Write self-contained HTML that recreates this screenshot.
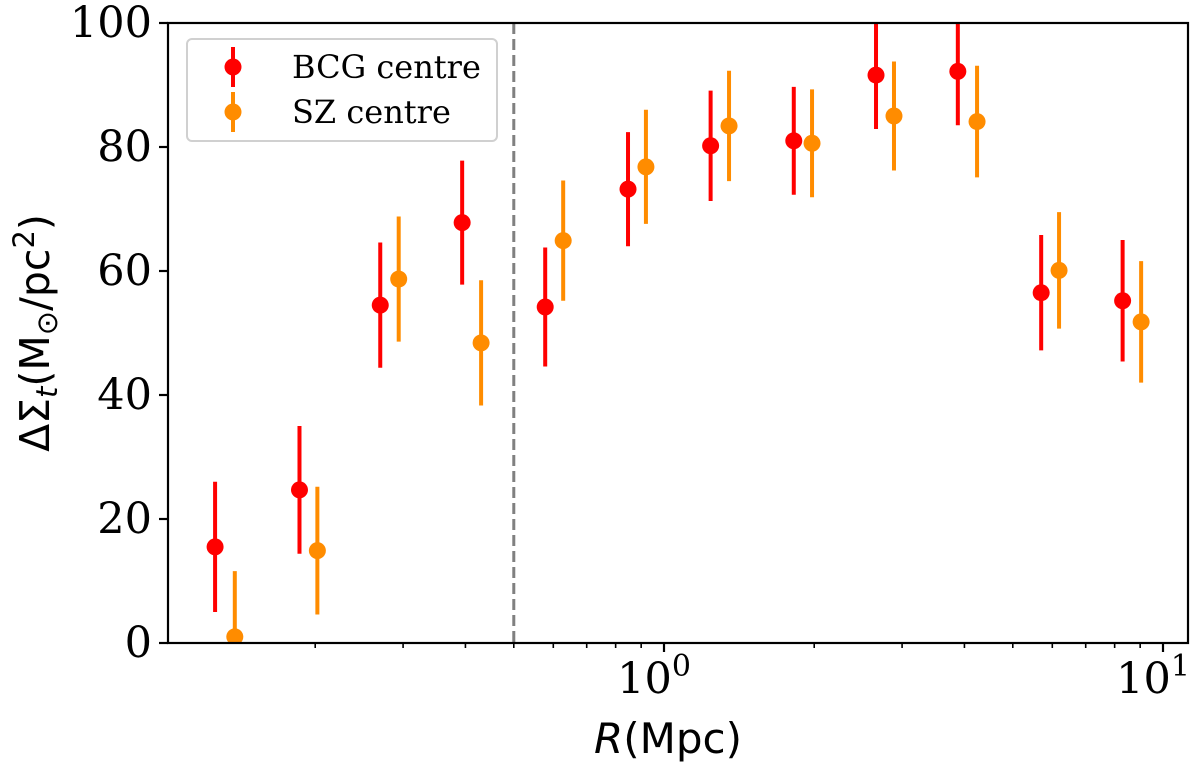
<!DOCTYPE html>
<html><head><meta charset="utf-8"><style>
html,body{margin:0;padding:0;background:#fff;}
svg{display:block;}
</style></head><body>
<svg id="chart" width="1200" height="762" xmlns="http://www.w3.org/2000/svg">
<rect x="0" y="0" width="1200" height="762" fill="#fff"/>
<g id="plot"></g>
</svg>
<script>
const bcgR = [0.126,0.186,0.27,0.394,0.578,0.847,1.24,1.82,2.66,3.88,5.7,8.3];
const bcgVal = [15.5,24.7,54.5,67.8,54.2,73.2,80.2,81.0,91.6,92.2,56.5,55.2];
const bcgErr = [10.5,10.3,10.1,10.0,9.6,9.2,8.9,8.7,8.7,8.7,9.3,9.8];
const szR = [0.138,0.202,0.294,0.43,0.628,0.92,1.35,1.98,2.89,4.24,6.19,9.04];
const szVal = [1.0,14.9,58.7,48.4,64.9,76.8,83.4,80.6,85.0,84.1,60.1,51.8];
const szErr = [10.6,10.3,10.1,10.1,9.7,9.2,8.9,8.7,8.8,9.0,9.4,9.8];
const yTicks = [0,20,40,60,80,100];
const xMajor = [0,1];
const xMinor = [0.2,0.3,0.4,0.5,0.6,0.7,0.8,0.9,2,3,4,5,6,7,8,9];
const cutR = 0.5;

const NS="http://www.w3.org/2000/svg";
const L=168,R=1188,T=23,B=643;
const X0=664,DEC=499;
function xs(v){return X0+Math.log10(v)*DEC;}
function ys(v){return B-(v/100)*(B-T);}
const g=document.getElementById('plot');
function mk(tag,at,parent){const e=document.createElementNS(NS,tag);for(const k in at)e.setAttribute(k,at[k]);(parent||g).appendChild(e);return e;}

const defs=mk('defs',{});
const cp=mk('clipPath',{id:'clip'},defs);
mk('rect',{x:L,y:T,width:R-L,height:B-T},cp);

const dl=mk('line',{x1:xs(cutR),x2:xs(cutR),y1:T,y2:B,stroke:'#808080','stroke-width':3,'stroke-dasharray':'11,5'});



function series(rs,vals,errs,color,name){
  const sg=mk('g',{'clip-path':'url(#clip)'});
  
  
  for(let i=0;i<rs.length;i++){
    const x=xs(rs[i]);
    const l=mk('line',{x1:x,x2:x,y1:ys(vals[i]-errs[i]),y2:ys(vals[i]+errs[i]),stroke:color,'stroke-width':4},sg);
    
    
    const c=mk('circle',{cx:x,cy:ys(vals[i]),r:8.5,fill:color},sg);
    
    
  }
}
series(bcgR,bcgVal,bcgErr,'#ff0000','bcg');
series(szR,szVal,szErr,'#ff8c00','sz');

const fr=mk('rect',{x:L,y:T,width:R-L,height:B-T,fill:'none',stroke:'#000','stroke-width':2.2});



yTicks.forEach(v=>{
  const y=ys(v);
  mk('line',{x1:L-9,x2:L,y1:y,y2:y,stroke:'#000','stroke-width':2.2});
  const t=mk('text',{x:L-16,y:y+14,'text-anchor':'end','font-family':'DejaVu Serif, Liberation Serif, serif','font-size':43,fill:'#000'});
  t.textContent=v;
  
  
});
xMajor.forEach(p=>{
  const x=xs(Math.pow(10,p));
  mk('line',{x1:x,x2:x,y1:B,y2:B+9,stroke:'#000','stroke-width':2.2});
  const t=mk('text',{x:x-10,y:B+50,'text-anchor':'middle','font-family':'DejaVu Serif, Liberation Serif, serif','font-size':43,fill:'#000'});
  
  
  t.appendChild(document.createTextNode('10'));
  const s=mk('tspan',{'font-size':30,dy:-17},t);s.textContent=p;
});
xMinor.forEach(v=>{
  const x=xs(v);
  mk('line',{x1:x,x2:x,y1:B,y2:B+5,stroke:'#000','stroke-width':1.6});
});

const xt=mk('text',{x:668,y:753,'text-anchor':'middle','font-family':'DejaVu Sans, Liberation Sans, sans-serif','font-size':42,fill:'#000'});


const ri=mk('tspan',{'font-style':'italic'},xt);ri.textContent='R';
xt.appendChild(document.createTextNode('(Mpc)'));

const yt=mk('text',{x:0,y:0,'text-anchor':'middle','font-family':'DejaVu Sans, Liberation Sans, sans-serif','font-size':41,fill:'#000',transform:'translate(49,333) rotate(-90)'});


yt.appendChild(document.createTextNode('ΔΣ'));
const st=mk('tspan',{'font-style':'italic','font-size':29,dy:8},yt);st.textContent='t';
const r1=mk('tspan',{dy:-8},yt);r1.textContent='(M';
const s2=mk('tspan',{'font-size':29,dy:8},yt);s2.textContent='⊙';
const r2=mk('tspan',{dy:-8},yt);r2.textContent='/pc';
const s3=mk('tspan',{'font-size':29,dy:-15},yt);s3.textContent='2';
const r3=mk('tspan',{dy:15},yt);r3.textContent=')';

const lg=mk('g',{});


mk('rect',{x:187,y:39,width:310,height:102,rx:5,fill:'#fff',stroke:'#d0d0d0','stroke-width':2},lg);
[['BCG centre','#ff0000',67],['SZ centre','#ff8c00',112]].forEach(([lab,c,y])=>{
  const e=mk('g',{},lg);
  
  
  mk('line',{x1:233,x2:233,y1:y-20,y2:y+20,stroke:c,'stroke-width':4},e);
  mk('circle',{cx:233,cy:y,r:8.5,fill:c},e);
  const t=mk('text',{x:292,y:y+11,'font-family':'DejaVu Serif, Liberation Serif, serif','font-size':32,fill:'#000'},e);
  t.textContent=lab;
});
</script>
</body></html>
